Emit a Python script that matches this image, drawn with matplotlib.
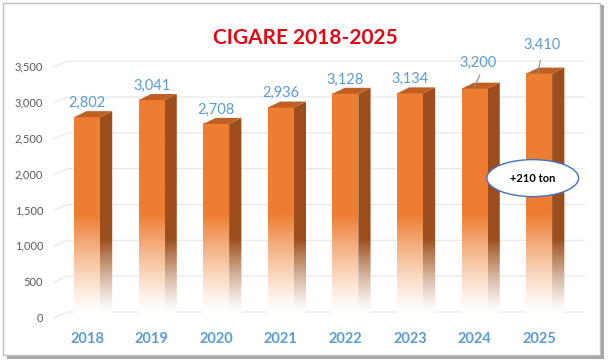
import numpy as np
import matplotlib.pyplot as plt
from matplotlib.patches import Polygon, Rectangle, Ellipse

years = ["2018", "2019", "2020", "2021", "2022", "2023", "2024", "2025"]
values = [2802, 3041, 2708, 2936, 3128, 3134, 3200, 3410]
yticks = [0, 500, 1000, 1500, 2000, 2500, 3000, 3500]
title = "CIGARE 2018-2025"
note = "+210 ton"

plt.rcParams['font.family'] = ['Lato', 'DejaVu Sans']

front_col = np.array([237, 125, 49]) / 255
side_col = np.array([156, 78, 28]) / 255
top_col = np.array([190, 96, 34]) / 255
blue = '#5B9BD5'

bw = 0.4     # front width
dx = 0.19    # depth in x (categories)
dy = 84      # depth in y (data units)


def fade(col, h, solid_from, n=200):
    # vertical gradient from white at 0 to solid colour at solid_from
    y = np.linspace(0, h, n)
    w = np.clip((y - 80) / (solid_from - 80), 0, 1) ** 1.2
    rgb = 1 - w[:, None] * (1 - col[None, :])
    return rgb[:, None, :]


fig = plt.figure(figsize=(6.08, 3.61), dpi=100)
ax = fig.add_axes([54.7 / 608, 43 / 361, 529.7 / 608, 258 / 361])
ax.axis('off')

# back-wall gridlines with floor slant
for v in yticks:
    ax.plot([-0.52, -0.3, 7.7], [v, v + dy, v + dy], color='#E6E6E6', lw=0.8,
            clip_on=False, zorder=1)
    ax.text(-0.68, v, f"{v:,}", ha='right', va='center', fontsize=8,
            color='#595959')

for i, v in enumerate(values):
    x0, x1 = i - bw / 2, i + bw / 2
    # front face
    ax.imshow(fade(front_col, v, 1450), extent=[x0, x1, 0, v], origin='lower',
              aspect='auto', zorder=3, interpolation='bilinear')
    # side face
    side = Polygon([[x1, 0], [x1 + dx, dy], [x1 + dx, v + dy], [x1, v]],
                   closed=True, fc='none', ec='none')
    ax.add_patch(side)
    im2 = ax.imshow(fade(side_col, v + dy, 1100), extent=[x1, x1 + dx, 0, v + dy],
                    origin='lower', aspect='auto', zorder=2.9, interpolation='bilinear')
    im2.set_clip_path(side)
    # top face
    ax.add_patch(Polygon([[x0, v], [x1, v], [x1 + dx, v + dy], [x0 + dx, v + dy]],
                         closed=True, fc=top_col, ec='none', zorder=3.1))
    # value labels
    if i < 6:
        ax.text(i, v + 200, f"{v:,}", ha='center', va='center', fontsize=10.5,
                color=blue, zorder=5)
    ax.text(i, -290, years[i], ha='center', va='center', fontsize=10.5,
            fontweight='bold', color=blue, clip_on=False)

ax.set_xlim(-0.5, 7.7)
ax.set_ylim(0, 3600)

# leader-line labels for the last two bars
ax.text(6.05, values[6] + 356, f"{values[6]:,}", ha='center', va='center',
        fontsize=10.5, color=blue, zorder=5)
ax.plot([6.08, 5.99], [values[6] + 190, values[6] + 5], color='#8C8C8C', lw=0.8,
        zorder=5)
ax.text(7.04, values[7] + 398, f"{values[7]:,}", ha='center', va='center',
        fontsize=10.5, color=blue, zorder=5)
ax.plot([7.03, 6.98], [values[7] + 244, values[7] + 10], color='#8C8C8C', lw=0.8,
        zorder=5)

# ellipse note
ax.add_patch(Ellipse((6.9, 1952), 1.42, 516, fc='white', ec='#4472C4', lw=1,
                     zorder=6))
ax.text(6.9, 1952, note, ha='center', va='center', fontsize=8, fontweight='bold',
        color='black', zorder=7)

fig.text(305 / 608, 1 - 38 / 361, title, ha='center', va='center', fontsize=15,
         fontweight='bold', color='#E30613')

# frame with shadow
fig.patches.append(Rectangle((7 / 608, 1 - 359 / 361), 597 / 608, 354 / 361,
                             transform=fig.transFigure, fc='#A6A6A6', ec='none',
                             zorder=-2))
fig.patches.append(Rectangle((3 / 608, 1 - 355 / 361), 597 / 608, 352 / 361,
                             transform=fig.transFigure, fc='white', ec='#BFBFBF',
                             lw=1, zorder=-1))

fig.savefig("out.png", dpi=100)
